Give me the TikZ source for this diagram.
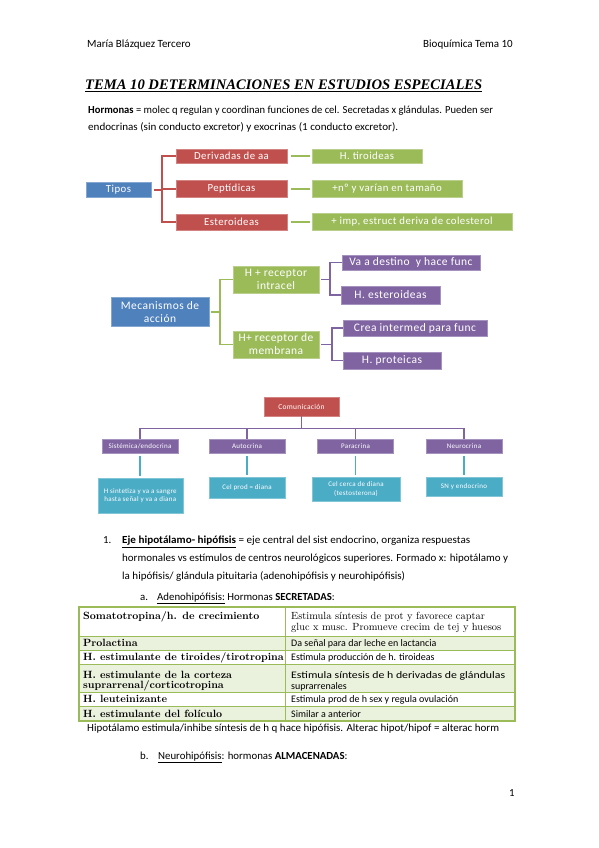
\documentclass[tikz,border=0pt]{standalone}
\usepackage{fontspec}
\setmainfont{Carlito}
\newfontfamily\titfont{Liberation Serif}
\newfontfamily\camfont[Extension=.otf, UprightFont=*-regular, BoldFont=*-bold]{lmroman10}
\newfontfamily\smartfont[LetterSpace=4]{Carlito}
\usetikzlibrary{positioning}
\definecolor{ofblue}{HTML}{4F81BD}
\definecolor{ofred}{HTML}{C0504D}
\definecolor{ofgreen}{HTML}{9BBB59}
\definecolor{ofpurple}{HTML}{8064A2}
\definecolor{ofaqua}{HTML}{4BACC6}
\definecolor{tabshade}{HTML}{EAF1DD}
\newcommand\renglon[2]{\resizebox{#1}{\height}{#2}}
\begin{document}
\begin{tikzpicture}[x=1pt,y=-1pt,
    caja/.style={fill=#1, draw=#1!70!white, line width=0.6pt, text=white,
        inner sep=1pt, align=center},
    rama/.style={draw=#1, line width=1.8pt},
    txt/.style={anchor=base west, inner sep=0pt, font=\fontsize{10.8}{12}\selectfont},
    celda/.style={anchor=base west, inner sep=0pt, font=\fontsize{10}{12}\selectfont},
    celdab/.style={anchor=base west, inner sep=0pt, font=\camfont\bfseries\fontsize{10.5}{12}\selectfont},
    celdac/.style={anchor=base west, inner sep=0pt, font=\camfont\fontsize{10.4}{12}\selectfont},
    d1/.style={font=\smartfont\fontsize{10.8}{12}\selectfont},
    d2/.style={font=\smartfont\fontsize{11.5}{13}\selectfont},
    d3/.style={font=\smartfont\fontsize{7}{8.5}\selectfont}]
    \useasboundingbox[fill=white] (0,0) rectangle (599,848);

    % cabecera
    \node[txt, font=\fontsize{11}{12}\selectfont] (autora) at (87,47.5) {María Blázquez Tercero};
    \node[txt, font=\fontsize{11}{12}\selectfont, anchor=base east] (asig) at (513,47.5) {Bioquímica Tema 10};
    \node[txt, font=\titfont\bfseries\itshape\fontsize{14.6}{16}\selectfont] (titulo) at (85,90)
        {\underline{TEMA 10 DETERMINACIONES EN ESTUDIOS ESPECIALES}};
    \node[txt] (intro1) at (88,113.5) {\renglon{405pt}{\textbf{Hormonas} = molec q regulan y coordinan funciones de cel. Secretadas x glándulas. Pueden ser}};
    \node[txt] (intro2) at (88,130.5) {\renglon{310pt}{endocrinas (sin conducto excretor) y exocrinas (1 conducto excretor).}};

    % tipos
    \node[caja=ofblue, d1, minimum width=65pt, minimum height=15pt] (tipos) at (118.5,190) {Tipos};
    \node[caja=ofred, d1, minimum width=111pt, minimum height=14pt] (der) at (231.5,156) {Derivadas de aa};
    \node[caja=ofred, d1, minimum width=111pt, minimum height=17pt] (pep) at (231.5,189) {Peptídicas};
    \node[caja=ofred, d1, minimum width=111pt, minimum height=16pt] (est) at (231.5,222) {Esteroideas};
    \node[caja=ofgreen, d1, minimum width=110pt, minimum height=14pt] (tiro) at (367,156) {H. tiroideas};
    \node[caja=ofgreen, d1, minimum width=150pt, minimum height=17pt] (tam) at (387,189) {+nº y varían en tamaño};
    \node[caja=ofgreen, d1, minimum width=200pt, minimum height=17pt] (col) at (412,222) {+ imp, estruct deriva de colesterol};
    \draw[rama=ofred] ([xshift=3pt]tipos.east) -- ([xshift=11pt]tipos.east) coordinate (tj);
    \foreach \n in {der,pep,est}
        \draw[rama=ofred] (tj) |- (\n.west);
    \foreach \a/\b in {der/tiro,pep/tam,est/col}
        \draw[rama=ofgreen, shorten <=4pt, shorten >=2pt] (\a.east) -- (\a.east -| \b.west);

    % mecanismos
    \node[caja=ofblue, d2, minimum width=98pt, minimum height=29pt] (meca) at (160,312) {Mecanismos de\\acción};
    \node[caja=ofgreen, d2, minimum width=86pt, minimum height=27pt] (hint) at (276,279.5) {H + receptor\\intracel};
    \node[caja=ofgreen, d2, minimum width=86pt, minimum height=27pt] (hmem) at (276,344.5) {H+ receptor de\\membrana};
    \node[caja=ofpurple, d2, minimum width=138pt, minimum height=15pt] (va) at (411,262.5) {Va a destino\ \ y hace func};
    \node[caja=ofpurple, d2, minimum width=99pt, minimum height=18pt] (hest) at (390.5,295) {H. esteroideas};
    \node[caja=ofpurple, d2, minimum width=144pt, minimum height=16pt] (crea) at (415,328) {Crea intermed para func};
    \node[caja=ofpurple, d2, minimum width=98pt, minimum height=17pt] (hprot) at (392,360.5) {H. proteicas};
    \draw[rama=ofgreen] ([xshift=2pt]meca.east) -- ([xshift=11pt]meca.east) coordinate (mj);
    \foreach \n in {hint,hmem}
        \draw[rama=ofgreen] (mj) |- (\n.west);
    \draw[rama=ofpurple] ([xshift=2pt]hint.east) -- ([xshift=11pt]hint.east) coordinate (ij);
    \draw[rama=ofpurple] (ij) |- (va.west);
    \draw[rama=ofpurple] (ij) |- (hest.west);
    \draw[rama=ofpurple] ([xshift=2pt]hmem.east) -- ([xshift=13pt]hmem.east) coordinate (bj);
    \draw[rama=ofpurple] (bj) |- (crea.west);
    \draw[rama=ofpurple] (bj) |- (hprot.west);

    % comunicacion
    \node[caja=ofred, d3, font=\smartfont\fontsize{7.5}{8.5}\selectfont, minimum width=75pt, minimum height=19pt] (com) at (301.5,406.5) {Comunicación};
    \node[caja=ofpurple, d3, minimum width=76pt, minimum height=14pt] (sis) at (140,446) {Sistémica/endocrina};
    \node[caja=ofpurple, d3, minimum width=76pt, minimum height=14pt] (aut) at (247,446) {Autocrina};
    \node[caja=ofpurple, d3, minimum width=76pt, minimum height=14pt] (par) at (355.5,446) {Paracrina};
    \node[caja=ofpurple, d3, minimum width=76pt, minimum height=14pt] (neu) at (464,446) {Neurocrina};
    \node[caja=ofaqua, d3, minimum width=85pt, minimum height=35pt] (hsin) at (140.3,495.5) {H sintetiza y va a sangre\\hasta señal y va a diana};
    \node[caja=ofaqua, d3, minimum width=76pt, minimum height=21pt] (cel) at (247,487.5) {Cel prod = diana};
    \node[caja=ofaqua, d3, minimum width=88pt, minimum height=24pt] (cer) at (356,489) {Cel cerca de diana\\(testosterona)};
    \node[caja=ofaqua, d3, minimum width=76pt, minimum height=19pt] (sn) at (464,486.5) {SN y endocrino};
    \draw[rama=ofpurple, line width=1.5pt] (com.south) -- ++(0,12) coordinate (bus);
    \draw[rama=ofpurple, line width=1.5pt] (bus -| sis.north) -- (bus -| neu.north);
    \foreach \n in {sis,aut,par,neu}
        \draw[rama=ofpurple, line width=1.5pt] (bus -| \n.north) -- (\n.north);
    \foreach \a/\b in {sis/hsin,aut/cel,par/cer,neu/sn}
        \draw[rama=ofaqua, line width=1.5pt, shorten <=3pt, shorten >=2pt] (\a.south) -- (\a.south |- \b.north);

    % eje hipotalamo-hipofisis
    \node[txt] (num1) at (103,543.5) {1.};
    \node[txt] (eje1) at (122,543.5) {\renglon{348pt}{\underline{\textbf{Eje hipotálamo- hipófisis}} = eje central del sist endocrino, organiza respuestas}};
    \node[txt] (eje2) at (122,561) {\renglon{386pt}{hormonales vs estímulos de centros neurológicos superiores. Formado x: hipotálamo y}};
    \node[txt] (eje3) at (122,579.5) {\renglon{283pt}{la hipófisis/ glándula pituitaria (adenohipófisis y neurohipófisis)}};
    \node[txt] (leta) at (140,600) {a.};
    \node[txt] (adeno) at (157,600) {\underline{Adenohipófisis:} Hormonas \textbf{SECRETADAS}:};

    % tabla
    \fill[tabshade] (79,636) rectangle (515,650.5);
    \fill[tabshade] (79,664) rectangle (515,692);
    \fill[tabshade] (79,706.5) rectangle (515,721);
    \foreach \yy in {636,650.5,664,692,706.5}
        \draw[ofgreen, line width=0.8pt] (79,\yy) -- (515,\yy);
    \draw[ofgreen, line width=0.8pt] (285.7,607) -- (285.7,721);
    \draw[ofgreen, line width=1.6pt] (79,607) rectangle (515,721);
    \node[celdab] (t1a) at (83,619.5) {Somatotropina/h. de crecimiento};
    \node[celdac] (t1b) at (291,619.5) {Estimula síntesis de prot y favorece captar};
    \node[celdac] (t1c) at (291,630.5) {gluc x musc. Promueve crecim de tej y huesos};
    \node[celdab] (t2a) at (83,646.5) {Prolactina};
    \node[celda] (t2b) at (291,646.5) {Da señal para dar leche en lactancia};
    \node[celdab] (t3a) at (83,660.5) {H. estimulante de tiroides/tirotropina};
    \node[celda] (t3b) at (291,660.5) {Estimula producción de h. tiroideas};
    \node[celdab] (t4a) at (83,678.5) {H. estimulante de la corteza};
    \node[celdab] (t4c) at (83,688) {suprarrenal/corticotropina};
    \node[celda] (t4b) at (291,678.5) {\renglon{214pt}{Estimula síntesis de h derivadas de glándulas}};
    \node[celda] (t4d) at (291,689) {suprarrenales};
    \node[celdab] (t5a) at (83,702.5) {H. leuteinizante};
    \node[celda] (t5b) at (291,702.5) {Estimula prod de h sex y regula ovulación};
    \node[celdab] (t6a) at (83,717.5) {H. estimulante del folículo};
    \node[celda] (t6b) at (291,717.5) {Similar a anterior};

    \node[txt] (hipot) at (87,731.5) {\renglon{412pt}{Hipotálamo estimula/inhibe síntesis de h q hace hipófisis. Alterac hipot/hipof = alterac horm}};
    \node[txt] (letb) at (140,759) {b.};
    \node[txt] (neuro) at (158,759) {\underline{Neurohipófisis}: hormonas \textbf{ALMACENADAS}:};
    \node[txt] (pagina) at (509,796) {1};
\end{tikzpicture}
\end{document}
